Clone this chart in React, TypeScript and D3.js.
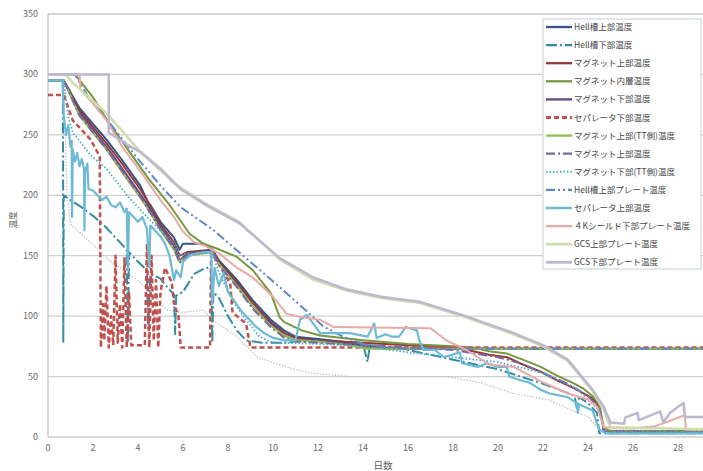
import React from "react";
import * as d3 from "d3";

type Pt = [number, number];

// Axis ticks
const DAY_TICKS = [0, 2, 4, 6, 8, 10, 12, 14, 16, 18, 20, 22, 24, 26, 28];
const TEMP_TICKS = [0, 50, 100, 150, 200, 250, 300, 350];

// Series values: [day, temperature]
const hellTop: Pt[] = [
  [0, 295], [0.7, 295], [1.4, 272], [2.6, 246], [3.3, 229], [4.1, 208], [4.4, 196], [4.5, 186], [4.55, 192],
  [5.0, 178], [5.6, 165], [5.85, 155], [6.0, 160], [6.9, 160], [7.3, 155], [7.6, 146], [8.4, 130], [9.1, 113],
  [9.9, 97], [10.5, 88], [11, 83], [12, 81], [13, 79], [14, 76], [15, 74], [16, 73], [30, 73],
];
const hellBottom: Pt[] = [
  [0, 295], [0.66, 295], [0.67, 227], [0.68, 78], [0.7, 200], [1.0, 196], [1.5, 190], [2, 183], [2.5, 175],
  [3, 165], [3.5, 155], [3.55, 78], [3.6, 153], [4, 145], [4.4, 138], [4.45, 90], [4.55, 135], [5, 131],
  [5.2, 126], [5.6, 118], [5.65, 85], [5.7, 117], [6.0, 120], [6.5, 135], [7.0, 140], [7.25, 140], [7.3, 78],
  [7.35, 120], [7.6, 115], [8.0, 100], [8.4, 88], [8.8, 80], [9.5, 78], [10.5, 78], [11, 79], [12, 79],
  [13, 78], [14, 77], [14.2, 62], [14.3, 76], [15, 75], [16, 72], [17, 68], [18, 64], [19, 60], [20, 56],
  [21, 50], [22, 44], [23, 37], [23.4, 34], [23.5, 24], [23.6, 33], [24, 28], [24.4, 20], [24.5, 3], [30, 3],
];
const magnetTop: Pt[] = [
  [0, 295], [0.7, 295], [1.4, 270], [2.6, 243], [3.3, 226], [4.1, 205], [4.5, 193], [5, 176], [5.6, 161],
  [5.85, 150], [6.2, 153], [7.3, 155], [7.6, 145], [8.4, 128], [9.1, 111], [9.9, 95], [10.5, 86], [11, 82],
  [12, 80], [14, 78], [16, 76], [18, 74], [18.9, 71], [19.6, 68], [20.4, 66], [21.1, 60], [21.9, 54],
  [22.6, 47], [23.3, 41], [23.8, 36], [24.2, 32], [24.5, 25], [24.7, 6], [25, 4], [30, 4],
];
const magnetInner: Pt[] = [
  [0, 300], [1.2, 300], [2.0, 281], [2.6, 263], [3.5, 239], [4.5, 213], [5.4, 192], [6.3, 168], [6.9, 160],
  [7.5, 156], [8.4, 149], [9.1, 138], [9.9, 119], [10.3, 99], [10.5, 95], [11.3, 88], [12.1, 84], [14, 80],
  [16, 77], [18, 75], [18.9, 74], [19.6, 71], [20.4, 69], [21.1, 64], [21.9, 58], [22.6, 51], [23.3, 45],
  [23.8, 40], [24.2, 34], [24.5, 27], [24.7, 7], [25, 5], [30, 5],
];
const magnetBottom: Pt[] = [
  [0, 295], [0.7, 295], [1.4, 268], [2.6, 240], [3.3, 222], [4.1, 201], [4.5, 190], [5.0, 174], [5.6, 158],
  [5.85, 146], [6.2, 152], [7.0, 154], [7.3, 155], [7.6, 144], [8.4, 126], [9.1, 108], [9.9, 94], [10.5, 84],
  [11, 80], [12, 80], [13, 78], [14, 75], [15, 73], [30, 73],
];
const separatorBottom: Pt[] = [
  [0, 283], [0.7, 283], [1.1, 262], [1.9, 246], [2.3, 232], [2.35, 74], [2.45, 110], [2.5, 80], [2.6, 125],
  [2.7, 74], [2.8, 100], [2.9, 76], [3.0, 150], [3.1, 78], [3.2, 110], [3.3, 74], [3.4, 148], [3.5, 74],
  [3.6, 120], [3.7, 76], [4.3, 76], [4.4, 160], [4.5, 74], [4.6, 150], [4.7, 80], [4.8, 130], [4.9, 74],
  [5.0, 120], [5.2, 140], [5.5, 128], [5.6, 110], [5.8, 100], [5.9, 74], [7.2, 74], [7.25, 152], [7.5, 146],
  [8.1, 127], [8.2, 103], [8.8, 94], [9.0, 74], [30, 74],
];
const magnetTopTT: Pt[] = [
  [0, 295], [0.7, 295], [1.4, 266], [2.6, 238], [3.3, 219], [4.1, 198], [4.5, 187], [5.0, 171], [5.6, 155],
  [5.85, 145], [6.2, 150], [7.3, 153], [7.6, 143], [8.4, 125], [9.1, 108], [9.9, 92], [10.5, 84], [11, 80],
  [12, 79], [13, 77], [14.2, 73], [30, 73],
];
const magnetTop2: Pt[] = [
  [0, 295], [0.7, 295], [1.4, 266], [2.6, 238], [3.3, 220], [4.1, 199], [5.0, 172], [5.6, 156], [5.85, 144],
  [6.2, 150], [7.3, 154], [7.6, 142], [8.4, 124], [9.1, 106], [9.9, 91], [10.5, 82], [11, 79], [12, 78],
  [14, 76], [16, 74], [18, 72], [19, 69], [20, 66], [21, 61], [22, 53], [23, 45], [24, 34], [24.5, 24],
  [24.7, 5], [30, 4],
];
const magnetBottomTT: Pt[] = [
  [0, 295], [0.7, 295], [0.9, 265], [1.1, 252], [1.9, 233], [2.6, 222], [3.6, 198], [4.5, 180], [5.6, 160],
  [5.85, 150], [6.2, 152], [7.3, 152], [7.6, 136], [8.2, 113], [8.8, 97], [9.4, 83], [10, 78], [12, 77],
  [14, 75], [16, 70], [18, 66], [20, 62], [22, 53], [23.5, 40], [24.5, 22], [24.8, 4], [30, 4],
];
const hellPlate: Pt[] = [
  [0, 300], [1.2, 300], [1.9, 278], [2.6, 263], [4, 230], [5, 208], [5.9, 190], [7.3, 172], [8.8, 148],
  [10.3, 124], [11.5, 104], [12.2, 92], [13, 84], [14, 77], [15, 74], [16, 73], [30, 73],
];
const separatorTop: Pt[] = [
  [0, 295], [0.65, 295], [0.7, 265], [0.8, 250], [0.9, 258], [1.0, 240], [1.05, 245], [1.07, 182], [1.1, 238],
  [1.2, 228], [1.3, 235], [1.4, 224], [1.5, 230], [1.6, 222], [1.62, 171], [1.65, 220], [1.75, 226],
  [1.8, 205], [2.0, 204], [2.2, 200], [2.4, 196], [2.6, 199], [2.8, 192], [3.0, 190], [3.2, 194], [3.4, 186],
  [3.5, 189], [3.55, 138], [3.6, 186], [4.0, 178], [4.2, 182], [4.4, 172], [4.5, 140], [4.55, 175],
  [4.8, 170], [5.0, 166], [5.2, 160], [5.4, 150], [5.6, 130], [5.7, 138], [5.9, 132], [6.0, 145], [6.3, 150],
  [6.6, 152], [7.0, 153], [7.25, 153], [7.3, 110], [7.4, 140], [7.6, 125], [7.8, 136], [8.0, 120], [8.3, 112],
  [8.6, 104], [8.9, 98], [9.2, 92], [9.6, 86], [10.0, 82], [10.5, 80], [11.0, 80], [11.2, 97], [11.5, 101],
  [12.1, 86], [13.4, 86], [14.2, 83], [14.5, 94], [14.6, 82], [15.0, 85], [15.3, 83], [15.6, 83], [15.9, 91],
  [16.4, 88], [16.5, 80], [16.7, 72], [17.2, 72], [17.6, 66], [18.3, 70], [18.4, 61], [19.1, 58], [19.5, 61],
  [20.0, 58], [20.4, 58], [20.5, 50], [21, 47], [21.4, 45], [21.9, 39], [22.3, 36], [23.1, 33], [23.5, 28],
  [23.55, 20], [23.6, 27], [24.2, 22], [24.5, 6], [24.8, 3], [30, 3],
];
const shield4K: Pt[] = [
  [0, 300], [1.4, 300], [1.45, 287], [2, 276], [2.6, 262], [3.3, 240], [4.1, 220], [5, 196], [5.6, 182],
  [6, 170], [6.5, 161], [7, 158], [7.6, 152], [8.4, 140], [9.1, 132], [10, 116], [10.6, 102], [11.3, 99],
  [12.1, 97], [12.7, 91], [17, 90], [17.7, 80], [18.6, 72], [19.6, 60], [20.7, 58], [21.9, 46], [23.1, 36],
  [24, 31], [24.4, 25], [24.7, 8], [26, 7], [27, 9], [28.3, 18], [28.35, 6], [30, 6],
];
const gcsTop: Pt[] = [
  [0, 300], [0.8, 300], [1.1, 293], [2.6, 268], [4.1, 236], [5.6, 210], [7.1, 192], [8.5, 178], [10.3, 147],
  [11.8, 130], [13.3, 121], [14.8, 115], [16.5, 111], [18.4, 100], [20.7, 85], [22, 75], [23.1, 63],
  [24.2, 38], [24.7, 22], [25, 8], [30, 6],
];
const gcsBottom: Pt[] = [
  [0, 300], [2.7, 300], [2.7, 252], [3.5, 242], [4.1, 236], [5, 222], [5.9, 205], [7.1, 191], [8.5, 177],
  [10.3, 148], [11.8, 132], [13.3, 122], [14.8, 116], [16.5, 112], [18.4, 101], [20.7, 86], [22, 76],
  [23.1, 64], [24.2, 39], [24.7, 25], [25, 12], [25.6, 11], [25.65, 16], [26.2, 20], [26.25, 14], [27.2, 21],
  [27.35, 12.5], [27.65, 20], [28, 25], [28.25, 28], [28.3, 16.5], [30, 16.5],
];
// Unlabelled reference sensor (light grey dotted)
const auxSensor: Pt[] = [
  [0.7, 295], [0.85, 200], [1.0, 176], [1.9, 161], [2.6, 148], [4.1, 128], [5.3, 105], [6, 103], [6.9, 105],
  [7.3, 97], [8.4, 83], [9.3, 66], [10.6, 58], [11.6, 53], [13.4, 50], [17.7, 50], [19.2, 45], [20.7, 36],
  [22.2, 31], [23.3, 22], [24, 17], [24.5, 6], [30, 5],
];

const LEGEND_NAMES = [
  "Hell槽上部温度",
  "Hell槽下部温度",
  "マグネット上部温度",
  "マグネット内層温度",
  "マグネット下部温度",
  "セパレータ下部温度",
  "マグネット上部(TT側)温度",
  "マグネット上部温度",
  "マグネット下部(TT側)温度",
  "Hell槽上部プレート温度",
  "セパレータ上部温度",
  "４Kシールド下部プレート温度",
  "GCS上部プレート温度",
  "GCS下部プレート温度",
];

const SERIES_DATA: Pt[][] = [
  hellTop, hellBottom, magnetTop, magnetInner, magnetBottom, separatorBottom, magnetTopTT,
  magnetTop2, magnetBottomTT, hellPlate, separatorTop, shield4K, gcsTop, gcsBottom,
];

type Style = { color: string; width: number; dash?: string; cap?: "round" | "butt" };
const STYLES: Style[] = [
  { color: "#34548a", width: 2 },
  { color: "#348ca3", width: 2, dash: "11,3,2,3" },
  { color: "#953735", width: 2 },
  { color: "#77983d", width: 2 },
  { color: "#604a7b", width: 2 },
  { color: "#c0504d", width: 2.5, dash: "5,3" },
  { color: "#92bd4f", width: 2 },
  { color: "#8064a2", width: 2, dash: "9,3,2,3" },
  { color: "#4bacc6", width: 1.8, dash: "1.5,2" },
  { color: "#6088c6", width: 2, dash: "9,3,2,3,2,3" },
  { color: "#6cbad5", width: 2.2 },
  { color: "#e8aaa6", width: 2 },
  { color: "#cfdcae", width: 2.5 },
  { color: "#bdb8cf", width: 2.5 },
];

const FONT = "'Noto Sans CJK JP', 'Noto Sans', sans-serif";

export default function App() {
  const W = 703;
  const H = 471;
  const left = 48;
  const right = 703;
  const top = 14;
  const bottom = 437;

  const x = d3.scaleLinear().domain([0, 29.11]).range([left, right]);
  const y = d3.scaleLinear().domain([0, 350]).range([bottom, top]);
  const line = d3
    .line<Pt>()
    .x((d) => x(d[0]))
    .y((d) => y(d[1]));

  const legendX = 543;
  const legendY = 19;
  const rowH = 18.1;

  return (
    <svg
      width={W}
      height={H}
      style={{ position: "absolute", left: 0, top: 0, background: "#fff" }}
      fontFamily={FONT}
    >
      <defs>
        <clipPath id="plot">
          <rect x={left} y={top - 2} width={right - left} height={bottom - top + 4} />
        </clipPath>
      </defs>
      <rect x={0} y={0} width={W} height={H} fill="#fff" />

      {/* horizontal gridlines */}
      {TEMP_TICKS.map((t) => (
        <line
          key={t}
          x1={left}
          x2={right}
          y1={y(t)}
          y2={y(t)}
          stroke={t === 350 ? "#c3c8d6" : "#cfcfcf"}
          strokeWidth={t === 0 ? 1.5 : 1.3}
        />
      ))}
      <line x1={left} x2={left} y1={top} y2={bottom} stroke="#c3c3c3" strokeWidth={1.3} />

      {/* y tick labels */}
      {TEMP_TICKS.map((t) => (
        <text key={t} x={38} y={y(t) + 3} fontSize={9} fill="#6a6a6a" textAnchor="end">
          {t}
        </text>
      ))}
      {/* x tick labels */}
      {DAY_TICKS.map((d) => (
        <text key={d} x={x(d)} y={451} fontSize={9} fill="#6a6a6a" textAnchor="middle">
          {d}
        </text>
      ))}
      <text x={383} y={469} fontSize={9.5} fill="#555" textAnchor="middle">
        日数
      </text>
      <text
        x={0}
        y={0}
        fontSize={8.5}
        fill="#555"
        textAnchor="middle"
        transform={`translate(16,220) rotate(-90)`}
      >
        温度
      </text>

      {/* series */}
      <g clipPath="url(#plot)" fill="none" strokeLinejoin="round">
        <path d={line(auxSensor) ?? ""} stroke="#c4c4c4" strokeWidth={1.3} strokeDasharray="1.5,1.5" />
        {SERIES_DATA.map((s, i) => (
          <path
            key={i}
            d={line(s) ?? ""}
            stroke={STYLES[i].color}
            strokeWidth={STYLES[i].width}
            strokeDasharray={STYLES[i].dash}
          />
        ))}
      </g>

      {/* legend */}
      <g>
        <rect x={legendX} y={legendY} width={158} height={250} fill="#fff" stroke="#c6cedc" strokeWidth={1} />
        {LEGEND_NAMES.map((name, i) => {
          const cy = legendY + 8 + i * rowH;
          const st = STYLES[i];
          return (
            <g key={i}>
              <line
                x1={legendX + 3}
                x2={legendX + 29}
                y1={cy}
                y2={cy}
                stroke={st.color}
                strokeWidth={st.width + 0.3}
                strokeDasharray={st.dash}
              />
              <text x={legendX + 31} y={cy + 3} fontSize={8.5} fill="#444">
                {name}
              </text>
            </g>
          );
        })}
      </g>
    </svg>
  );
}
